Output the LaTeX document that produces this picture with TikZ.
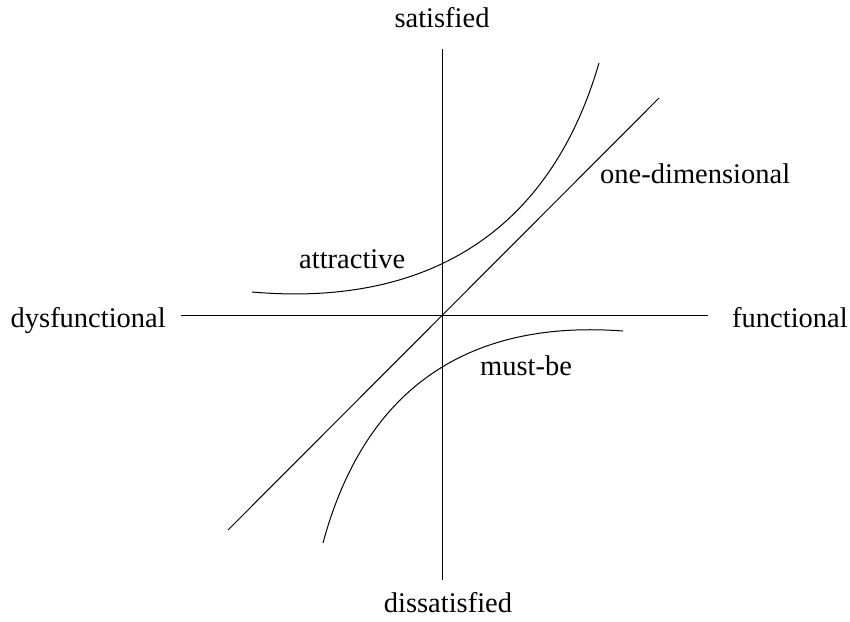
\documentclass[tikz,border=0pt]{standalone}
\usepackage{fontspec}
\setmainfont{Liberation Serif}
\begin{document}
\begin{tikzpicture}[x=1pt,y=-1pt,
  lbl/.style={inner sep=0pt,font=\fontsize{28.5}{34}\selectfont},
  ln/.style={line width=1pt,black}]
\useasboundingbox (0,0) rectangle (850,621);
% axes
\coordinate (top) at (442,49);
\coordinate (bot) at (442,580);
\coordinate (lft) at (181,315);
\coordinate (rgt) at (708,315);
\coordinate (dlo) at (228,530);
\coordinate (dhi) at (659,98);
\draw[ln] (top) -- (bot);
\draw[ln] (lft) -- (rgt);
\draw[ln] (dlo) -- (dhi);
% curves
\coordinate (a0) at (252,292);
\coordinate (a1) at (599,63);
\coordinate (m0) at (323,543);
\coordinate (m1) at (623,331);
\draw[ln] (a0) .. controls (400,305) and (543,255) .. (a1);
\draw[ln] (m0) .. controls (363.5,393) and (463,319) .. (m1);
% labels
\node[lbl,anchor=base east] (dys) at (166,327) {dysfunctional};
\node[lbl,anchor=base west] (fun) at (732,327) {functional};
\node[lbl,anchor=base] (sat) at (442,27) {satisfied};
\node[lbl,anchor=base] (dis) at (448,612) {dissatisfied};
\node[lbl,anchor=base west] (one) at (600,183) {one-dimensional};
\node[lbl,anchor=base west] (att) at (299,268) {attractive};
\node[lbl,anchor=base west] (must) at (480,375) {must-be};
\end{tikzpicture}
\end{document}
